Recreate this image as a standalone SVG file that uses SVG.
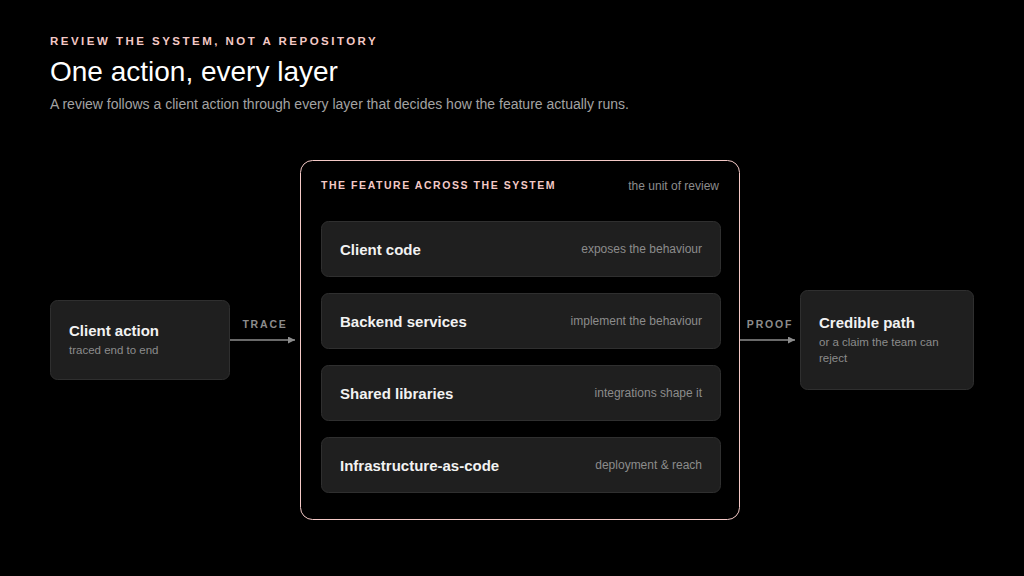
<svg xmlns="http://www.w3.org/2000/svg" width="1024" height="576" viewBox="0 0 1024 576">
<style>
text{font-family:"Liberation Sans",Arial,sans-serif}
.eyebrow{font-size:11.5px;font-weight:bold;fill:#f4c9c6;letter-spacing:2.48px}
.title{font-size:28px;fill:#ffffff}
.sub{font-size:14px;fill:#a3a3a3}
.plabel{font-size:10.5px;font-weight:bold;fill:#f4c9c6;letter-spacing:1.55px}
.muted{font-size:12px;fill:#8c8c8c}
.note{font-size:11.5px;fill:#8c8c8c}
.card{fill:#1f1f1f;stroke:#2f2f2f;stroke-width:1}
.ct{font-size:15px;font-weight:bold;fill:#f2f2f2}
.elabel{font-size:10.5px;font-weight:bold;fill:#8c8c8c;letter-spacing:1.8px}
.edge{stroke:#8c8c8c;stroke-width:1.5;fill:none}
</style>
<defs>
<marker id="arr" viewBox="0 0 10 10" refX="10" refY="5" markerWidth="7" markerHeight="7" markerUnits="userSpaceOnUse" orient="auto">
<path d="M0,0 L10,5 L0,10 z" fill="#8c8c8c"/>
</marker>
</defs>
<rect width="1024" height="576" fill="#000000"/>
<g id="header">
<text class="eyebrow" x="50" y="45">REVIEW THE SYSTEM, NOT A REPOSITORY</text>
<text class="title" x="50" y="81">One action, every layer</text>
<text class="sub" x="50" y="109">A review follows a client action through every layer that decides how the feature actually runs.</text>
</g>
<g id="system">
<rect x="300.5" y="160.5" width="439" height="359" rx="12" fill="#000000" stroke="#f4c9c6" stroke-width="1"/>
<text class="plabel" x="321" y="189">THE FEATURE ACROSS THE SYSTEM</text>
<text class="muted" x="719" y="190" text-anchor="end">the unit of review</text>
</g>
<g id="client-code">
<rect class="card" x="321.5" y="221.5" width="399" height="55" rx="7"/>
<text class="ct" x="340" y="255">Client code</text>
<text class="muted" x="702" y="253" text-anchor="end">exposes the behaviour</text>
</g>
<g id="backend-services">
<rect class="card" x="321.5" y="293.5" width="399" height="55" rx="7"/>
<text class="ct" x="340" y="327">Backend services</text>
<text class="muted" x="702" y="325" text-anchor="end">implement the behaviour</text>
</g>
<g id="shared-libraries">
<rect class="card" x="321.5" y="365.5" width="399" height="55" rx="7"/>
<text class="ct" x="340" y="399">Shared libraries</text>
<text class="muted" x="702" y="397" text-anchor="end">integrations shape it</text>
</g>
<g id="infrastructure">
<rect class="card" x="321.5" y="437.5" width="399" height="55" rx="7"/>
<text class="ct" x="340" y="471">Infrastructure-as-code</text>
<text class="muted" x="702" y="469" text-anchor="end">deployment &amp; reach</text>
</g>
<g id="client-action">
<rect class="card" x="50.5" y="300.5" width="179" height="79" rx="7"/>
<text class="ct" x="69" y="336">Client action</text>
<text class="note" x="69" y="354">traced end to end</text>
</g>
<g id="credible-path">
<rect class="card" x="800.5" y="290.5" width="173" height="99" rx="7"/>
<text class="ct" x="819" y="328">Credible path</text>
<text class="note" x="819" y="346">or a claim the team can</text>
<text class="note" x="819" y="362">reject</text>
</g>
<g id="connectors">
<line class="edge" x1="230" y1="340" x2="295" y2="340" marker-end="url(#arr)"/>
<text class="elabel" x="265" y="328" text-anchor="middle">TRACE</text>
<line class="edge" x1="740" y1="340" x2="795" y2="340" marker-end="url(#arr)"/>
<text class="elabel" x="770" y="328" text-anchor="middle">PROOF</text>
</g>
</svg>
